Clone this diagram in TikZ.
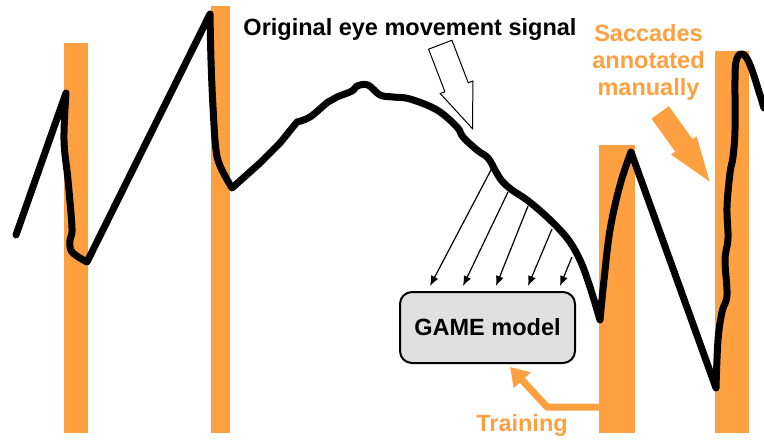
\documentclass[tikz,border=0pt]{standalone}
\usepackage{fontspec}
\setmainfont{Liberation Sans}
\usetikzlibrary{arrows.meta,shapes.arrows}
\definecolor{sacc}{RGB}{255,160,64}
\definecolor{boxgray}{RGB}{224,224,224}

\begin{document}
\begin{tikzpicture}[x=1pt,y=-1pt,font=\bfseries\fontsize{23.5}{27}\selectfont]
		\useasboundingbox (0,0) rectangle (764,440);
		\tikzset{bar/.style={fill=sacc}, signal/.style={line width=7pt,line join=round,line cap=round}}
		\tikzset{feed/.style={line width=1.2pt,-{Latex[length=10pt,width=8pt]}}}
		\tikzset{gamebox/.style={draw,line width=2pt,fill=boxgray,rounded corners=12pt,minimum width=175pt,minimum height=71pt,inner sep=0pt}}
		\foreach \xa/\xb/\ytop in {64/88/43, 211/230/6, 599/635/145, 715/749/51}
			\fill[bar] (\xa,\ytop) rectangle (\xb,433); % saccade bars
		\node[gamebox] (game) at (487.5,327.5) {GAME model};
		\foreach \i/\sx/\sy/\ex in {1/492/168/430, 2/508/192/463, 3/528/206/496, 4/552/229/528, 5/572/257/560}{
			\coordinate (s\i) at (\sx,\sy); % points on the signal
			\coordinate (e\i) at (\ex,286);
			\draw[feed] (s\i) -- (e\i);
		}
		\draw[signal] (16,235) -- (66,93) % eye movement signal
			-- plot[smooth,tension=0.6] coordinates {(66,93) (64,140) (68,180) (72,228) (70,240) (72,252) (87,262)}
			-- (210,14)
			-- plot[smooth,tension=0.6] coordinates {(210,14) (211,60) (213,107) (216,150) (221,168) (232,188)}
			-- (260,163) -- (280,143) -- (297,122)
			-- plot[smooth,tension=0.6] coordinates {(297,122) (310,117) (328,102) (337,97) (352,91) (357,86) (368,85) (380,95) (393,97) (410,99) (437,110) (457,127) (463,137) (477,150) (488,158) (495,170) (502,181) (512,190) (527,200) (547,217) (567,238) (580,260) (590,287) (600,320)}
			-- plot[smooth,tension=0.6] coordinates {(600,320) (604,280) (610,230) (620,185) (631,152)}
			-- (716,388)
			-- plot[smooth,tension=0.6] coordinates {(716,388) (718,340) (722,312) (727,295) (725,260) (728,238) (727,207) (730,173) (733,157) (735,130) (735,80) (736,62) (740,54) (746,57) (752,70) (760,95) (764,108)};
		\node[anchor=base] (title) at (410,35) {Original eye movement signal};
		\node[single arrow,draw=black,fill=white,line width=1pt,minimum height=90pt,inner xsep=0pt,inner ysep=12pt,single arrow head extend=5pt,single arrow tip angle=43,rotate=-69,anchor=tip] (ptr) at (473,130) {}; % pointer to the signal
		\node[anchor=base,align=center,text=sacc] (sacclabel) at (648.5,95) {Saccades\\annotated\\manually};
		\node[single arrow,fill=sacc,minimum height=85pt,inner xsep=0pt,inner ysep=10.5pt,single arrow head extend=5pt,single arrow tip angle=39,rotate=-54.4,anchor=tip] (saccptr) at (710,182) {};
		\node[anchor=base,text=sacc] (train) at (522,431) {Training};
		\coordinate (tb) at (599,407); % training connector
		\coordinate (tk) at (547,407);
		\coordinate (tt) at (510,367);
		\draw[draw=sacc,line width=7pt,-{Triangle[length=18pt,width=22pt]}] (tb) -- (tk) -- (tt);
	\end{tikzpicture}
\end{document}
